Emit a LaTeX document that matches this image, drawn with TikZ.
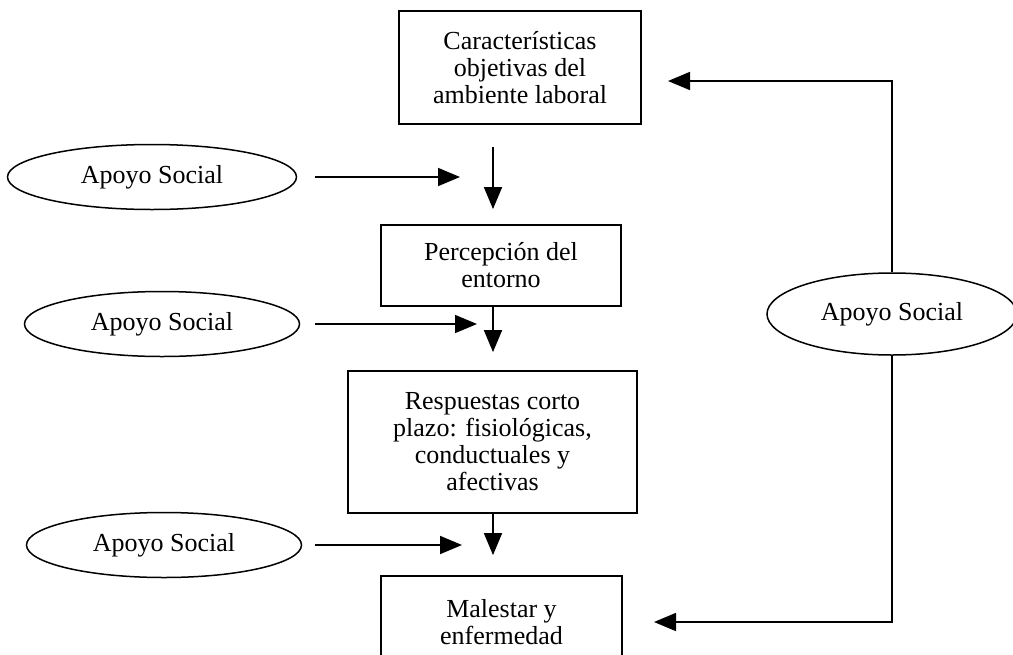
\documentclass[tikz,border=0pt]{standalone}
\usepackage{fontspec}
\setmainfont{Liberation Serif}
\usetikzlibrary{arrows.meta,shapes.geometric}
\begin{document}
\begin{tikzpicture}[x=1pt,y=-1pt,
  txt/.style={font=\fontsize{26}{27}\selectfont},
  box/.style={draw, line width=1.8pt, align=center, inner sep=0pt, txt},
  oval/.style={draw, ellipse, line width=1.5pt, inner sep=0pt, fill=white, txt},
  conn/.style={line width=1.7pt, -{Triangle[length=22pt,width=18pt]}},
]
\useasboundingbox (0,0) rectangle (1013,654);
\clip (0,0) rectangle (1013,654);

% main chain of boxes
\node[box, minimum width=242, minimum height=113] (box1) at (520,67.5)
  {Características\\objetivas del\\ambiente laboral};
\node[box, minimum width=240, minimum height=81] (box2) at (501,265.5)
  {Percepción del\\entorno};
\node[box, minimum width=289, minimum height=142] (box3) at (492.5,442)
  {Respuestas corto\\plazo: fisiológicas,\\conductuales y\\afectivas};
\node[box, minimum width=241, minimum height=92] (box4) at (501.5,622)
  {Malestar y\\enfermedad};

% moderators
\node[oval, minimum width=289, minimum height=65] (e1) at (152,177) {Apoyo Social};
\node[oval, minimum width=275, minimum height=65] (e2) at (162,324) {Apoyo Social};
\node[oval, minimum width=275, minimum height=65] (e3) at (164,545) {Apoyo Social};

% column of the vertical arrows
\coordinate (ax) at (493,0);

% vertical flow
\draw[conn, shorten <=22pt, shorten >=15pt] (box1.south -| ax) -- (box2.north -| ax);
\draw[conn, shorten >=18pt] (box2.south -| ax) -- (box3.north -| ax);
\draw[conn, shorten >=20pt] (box3.south -| ax) -- (box4.north -| ax);

% horizontal arrows from the moderators
\coordinate (h1) at (460,177);
\coordinate (h2) at (477,324);
\coordinate (h3) at (462,545);
\draw[conn, shorten <=18pt] (e1.east) -- (h1);
\draw[conn, shorten <=15pt] (e2.east) -- (h2);
\draw[conn, shorten <=13pt] (e3.east) -- (h3);

% feedback loop through social support
\node[oval, minimum width=250, minimum height=82] (e4) at (892,314) {Apoyo Social};
\coordinate (t1) at (668,81);
\coordinate (t2) at (654,622);
\draw[conn] (e4.north) |- (t1);
\draw[conn] (e4.south) |- (t2);
\end{tikzpicture}
\end{document}
